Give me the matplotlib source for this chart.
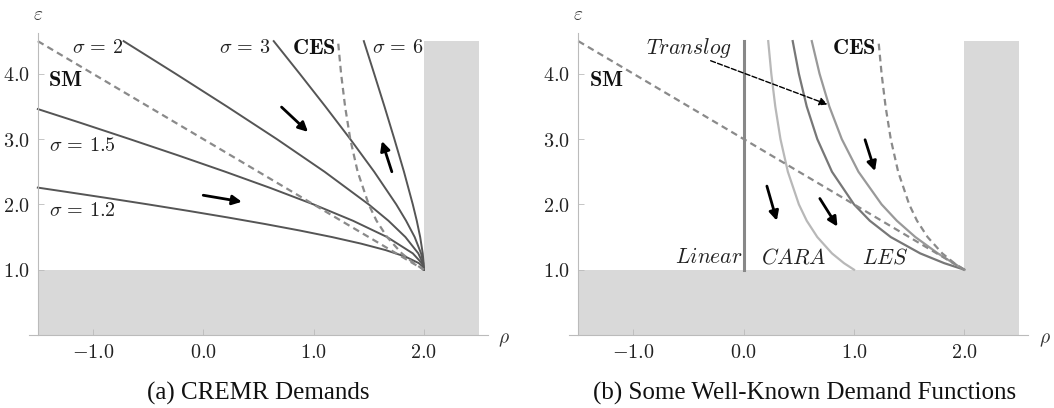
import matplotlib
matplotlib.use("Agg")
import matplotlib.pyplot as plt

plt.rcParams['mathtext.fontset'] = 'cm'
plt.rcParams['font.family'] = ['DejaVu Serif']

# shared elasticity grid
eps_grid = [1.0, 1.1, 1.25, 1.5, 1.75, 2.0, 2.5, 3.0, 3.5, 4.0, 4.5]

# (a) CREMR demands: rho values along each curve
rho_s6 = [2.0, 1.998, 1.99, 1.967, 1.936, 1.9, 1.82, 1.733, 1.643, 1.55, 1.456]
rho_s3 = [2.0, 1.995, 1.975, 1.917, 1.839, 1.75, 1.55, 1.333, 1.107, 0.875, 0.639]
rho_s2 = [2.0, 1.991, 1.95, 1.833, 1.679, 1.5, 1.1, 0.667, 0.214, -0.25, -0.722]
eps_s15 = [1.0, 1.05, 1.1, 1.25, 1.5, 1.75, 2.0, 2.25, 2.5, 2.75, 3.0, 3.25, 3.46]
rho_s15 = [2.0, 1.995, 1.982, 1.9, 1.667, 1.357, 1.0, 0.611, 0.2, -0.227, -0.667, -1.115, -1.5]
eps_s12 = [1.0, 1.02, 1.05, 1.1, 1.2, 1.3, 1.4, 1.5, 1.6, 1.7, 1.8, 1.9, 2.0, 2.1, 2.2, 2.257]
rho_s12 = [2.0, 1.998, 1.988, 1.955, 1.833, 1.654, 1.429, 1.167, 0.875, 0.559, 0.222,
           -0.132, -0.5, -0.881, -1.273, -1.5]
rho_ces = [2.0, 1.909, 1.8, 1.667, 1.571, 1.5, 1.4, 1.333, 1.286, 1.25, 1.222]
rho_sm = [-1.5, 2.0]
eps_sm = [4.5, 1.0]

# (b) well-known demand functions
rho_linear = [0.0, 0.0]
eps_linear = [1.0, 4.5]
rho_cara = [1.0, 0.909, 0.8, 0.667, 0.571, 0.5, 0.4, 0.333, 0.286, 0.25, 0.222]
rho_les = [2.0, 1.818, 1.6, 1.333, 1.143, 1.0, 0.8, 0.667, 0.571, 0.5, 0.444]
rho_translog = [2.0, 1.901, 1.76, 1.556, 1.388, 1.25, 1.04, 0.889, 0.776, 0.6875, 0.617]

xticks = [-1.0, 0.0, 1.0, 2.0]
yticks = [1.0, 2.0, 3.0, 4.0]

shade = '#d9d9d9'
dark = '#555555'
dash = '#8a8a8a'

fig = plt.figure(figsize=(10.54, 4.08), dpi=100)
ax1 = fig.add_axes([0.0275, 0.1789, 0.4353, 0.7395])
ax2 = fig.add_axes([0.5403, 0.1789, 0.4353, 0.7395])


def setup(ax):
    ax.set_xlim(-1.58, 2.58)
    ax.set_ylim(0, 4.62)
    ax.fill_between([-1.5, 2.0], 0, 1.0, color=shade, lw=0, zorder=0)
    ax.fill_between([2.0, 2.5], 0, 4.5, color=shade, lw=0, zorder=0)
    for s in ['top', 'right']:
        ax.spines[s].set_visible(False)
    ax.spines['left'].set_position(('data', -1.5))
    ax.spines['left'].set_bounds(0, 4.62)
    ax.spines['left'].set_color('#bbbbbb')
    ax.spines['bottom'].set_color('#bbbbbb')
    ax.spines['left'].set_linewidth(0.8)
    ax.spines['bottom'].set_linewidth(0.8)
    ax.set_xticks(xticks)
    ax.set_xticklabels(['$%.1f$' % v for v in xticks])
    ax.set_yticks(yticks)
    ax.set_yticklabels(['$%.1f$' % v for v in yticks])
    ax.tick_params(direction='in', length=4, width=0.6, color='#bbbbbb',
                   labelsize=14.5, labelcolor='#222222', pad=6)
    ax.text(-1.5, 4.9, r'$\varepsilon$', fontsize=14, ha='center', va='center',
            color='#333333', clip_on=False)
    ax.text(2.73, -0.08, r'$\rho$', fontsize=14, ha='center', va='center',
            color='#333333', clip_on=False)


def arrow(ax, x0, y0, x1, y1, **kw):
    props = dict(arrowstyle='-|>', color='k', lw=2.0, mutation_scale=14,
                 shrinkA=0, shrinkB=0)
    props.update(kw)
    ax.annotate('', xy=(x1, y1), xytext=(x0, y0), arrowprops=props)


# ---- panel (a)
setup(ax1)
for r, e in [(rho_s6, eps_grid), (rho_s3, eps_grid), (rho_s2, eps_grid),
             (rho_s15, eps_s15), (rho_s12, eps_s12)]:
    ax1.plot(r, e, color=dark, lw=1.4)
ax1.plot(rho_ces, eps_grid, color=dash, lw=1.6, ls=(0, (3, 2)))
ax1.plot(rho_sm, eps_sm, color=dash, lw=1.6, ls=(0, (3, 2)))

lab = dict(fontsize=14.5, ha='center', va='center', color='#222222')
bold = dict(fontsize=16, ha='center', va='center', color='#111111')
ax1.text(-0.96, 4.4, r'$\sigma\,=\,2$', **lab)
ax1.text(0.38, 4.4, r'$\sigma\,=\,3$', **lab)
ax1.text(1.0, 4.4, r'$\mathbf{CES}$', **bold)
ax1.text(1.76, 4.4, r'$\sigma\,=\,6$', **lab)
ax1.text(-1.25, 3.9, r'$\mathbf{SM}$', **bold)
ax1.text(-1.1, 2.9, r'$\sigma\,=\,1.5$', **lab)
ax1.text(-1.1, 1.9, r'$\sigma\,=\,1.2$', **lab)

arrow(ax1, 0.71, 3.49, 0.95, 3.11)
arrow(ax1, 1.71, 2.5, 1.62, 2.97)
arrow(ax1, 0.0, 2.14, 0.35, 2.04)

# ---- panel (b)
setup(ax2)
ax2.plot(rho_linear, eps_linear, color='#888888', lw=2.2)
ax2.plot(rho_cara, eps_grid, color='#b8b8b8', lw=1.6)
ax2.plot(rho_les, eps_grid, color='#777777', lw=1.6)
ax2.plot(rho_translog, eps_grid, color='#999999', lw=1.6)
ax2.plot(rho_ces, eps_grid, color=dash, lw=1.6, ls=(0, (3, 2)))
ax2.plot(rho_sm, eps_sm, color=dash, lw=1.6, ls=(0, (3, 2)))

ital = dict(fontsize=15.5, ha='center', va='center', color='#222222')
ax2.text(-0.5, 4.4, r'$Translog$', **ital)
ax2.text(1.0, 4.4, r'$\mathbf{CES}$', **bold)
ax2.text(-1.25, 3.9, r'$\mathbf{SM}$', **bold)
ax2.text(-0.32, 1.19, r'$Linear$', **ital)
ax2.text(0.45, 1.19, r'$CARA$', **ital)
ax2.text(1.28, 1.19, r'$LES$', **ital)

arrow(ax2, -0.30, 4.2, 0.76, 3.53, lw=1.0, ls='--', mutation_scale=12)
arrow(ax2, 1.10, 2.99, 1.19, 2.51)
arrow(ax2, 0.21, 2.28, 0.30, 1.75)
arrow(ax2, 0.69, 2.09, 0.85, 1.66)

cap = dict(fontsize=18, ha='center', va='center', family='Liberation Serif', color='#111111')
fig.text(258 / 1054, 1 - 393 / 408, '(a) CREMR Demands', **cap)
fig.text(805 / 1054, 1 - 393 / 408, '(b) Some Well-Known Demand Functions', **cap)

fig.savefig('out.png', dpi=100)
